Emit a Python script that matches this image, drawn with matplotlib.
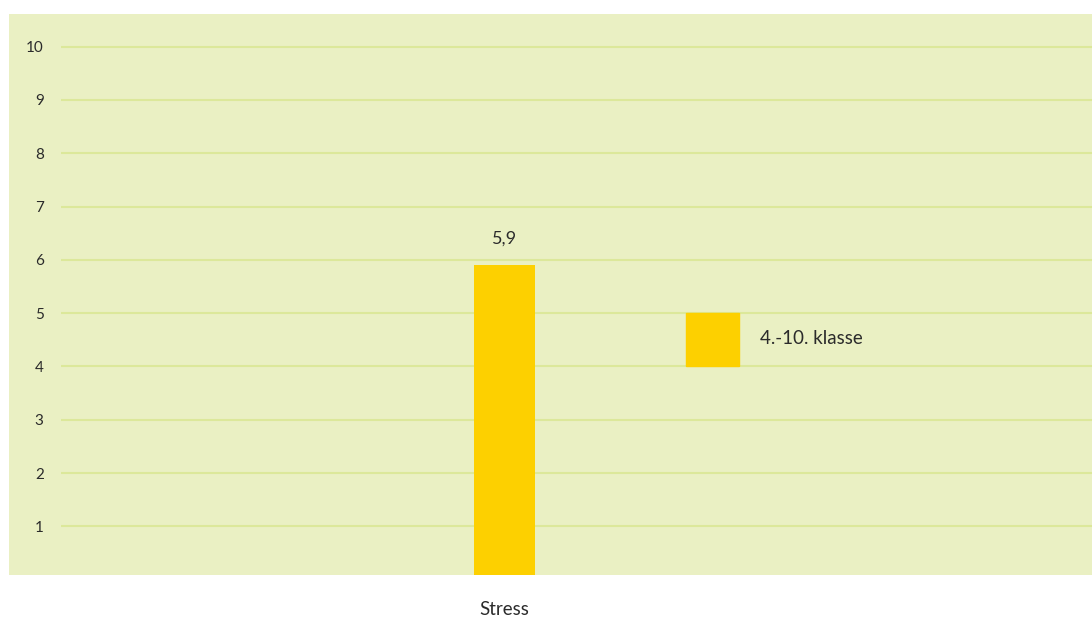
import matplotlib
matplotlib.use('Agg')
import matplotlib.pyplot as plt
from matplotlib.patches import Patch

categories = ['Stress']
values = [5.9]
series_name = '4.-10. klasse'
y_ticks = [1, 2, 3, 4, 5, 6, 7, 8, 9, 10]

BG = '#eaf0c3'
GRID = '#dce89a'
BAR = '#fdd000'
TXT = '#2b2b2b'

plt.rcParams['font.family'] = ['Lato', 'DejaVu Sans']

fig = plt.figure(figsize=(10.92, 6.17), dpi=100)
ax = fig.add_axes([9 / 1092, 42 / 617, 1083 / 1092, 561 / 617])
ax.set_facecolor(BG)

x = list(range(len(categories)))
bars = ax.bar(x, values, width=0.5, color=BAR, zorder=3)
ax.bar_label(bars, labels=[f'{v:.1f}'.replace('.', ',') for v in values],
             padding=13, fontsize=13, color=TXT)

ax.set_xlim(-4.06, 4.82)
ax.set_ylim(0.09, 10.61)

# gridlines start a bit in from the left edge
ax.hlines(y_ticks, -3.63, 4.82, color=GRID, lw=1.5, zorder=1)

ax.set_yticks(y_ticks)
ax.set_yticklabels([str(t) for t in y_ticks], fontsize=11, color=TXT)
ax.tick_params(axis='y', length=0, pad=-25)
for lbl in ax.get_yticklabels():
    lbl.set_horizontalalignment('right')

ax.set_xticks(x)
ax.set_xticklabels(categories, fontsize=13.5, color=TXT)
ax.tick_params(axis='x', length=0, pad=19)

for s in ax.spines.values():
    s.set_visible(False)

ax.legend(handles=[Patch(color=BAR, label=series_name)],
          loc='upper left', bbox_to_anchor=(0.6251, 0.467),
          frameon=False, fontsize=13.5, borderpad=0, borderaxespad=0,
          handlelength=2.83, handleheight=3.95, handletextpad=1.1,
          labelcolor=TXT)

fig.savefig('out.png', dpi=100, facecolor='white')
